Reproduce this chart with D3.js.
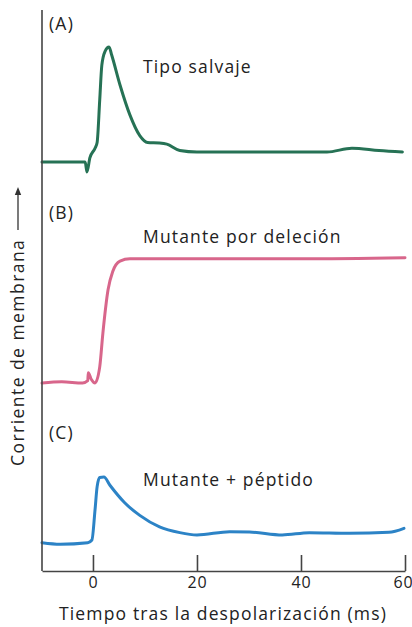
<!DOCTYPE html>
<html>
<head>
<meta charset="utf-8">
<script src="https://cdn.jsdelivr.net/npm/d3@7"></script>
<style>
  html, body { margin: 0; padding: 0; background: #fff; }
  svg { display: block; }
  text { font-family: "Open Sans", "Noto Sans", sans-serif; fill: #222; }
</style>
</head>
<body>
<svg id="chart" width="412" height="627"></svg>
<script>
// ---- data (time in ms, current in arbitrary units, 0 = baseline of each trace) ----
const timeA = [-9.8, -5, -1.5, -1.15, -0.6, 0.4, 0.8, 1.3, 1.7, 2.3, 3.1, 3.6, 5.2, 7.1, 9, 10.5, 12.8, 14.2, 16.7, 20, 30, 45, 49.8, 55, 59.5];
const currentA = [0, 0, 0, -0.087, 0.035, 0.12, 0.17, 0.54, 0.84, 0.96, 1.0, 0.93, 0.67, 0.41, 0.23, 0.17, 0.165, 0.155, 0.1, 0.087, 0.087, 0.087, 0.12, 0.1, 0.087];

const timeB = [-9.8, -6, -2, -1, -0.9, -0.3, 0.4, 1.3, 1.9, 2.9, 3.8, 5.2, 7.1, 20, 40, 60];
const currentB = [0, 0.01, 0, 0.02, 0.09, 0.03, 0, 0.14, 0.43, 0.81, 0.97, 1.06, 1.08, 1.08, 1.08, 1.09];

const timeC = [-9.8, -6.3, -1, -0.2, 0.4, 0.8, 1.3, 2.1, 3.3, 6.1, 9, 12.8, 16.7, 20, 26.3, 30.1, 36.4, 41.6, 49.3, 56.9, 59.8];
const currentC = [0.003, -0.01, 0.003, 0.026, 0.29, 0.49, 0.57, 0.574, 0.5, 0.35, 0.24, 0.14, 0.09, 0.07, 0.098, 0.096, 0.07, 0.09, 0.085, 0.093, 0.128];

const panelLetters = ["(A)", "(B)", "(C)"];
const panelNames = ["Tipo salvaje", "Mutante por deleción", "Mutante + péptido"];
const xTicks = [0, 20, 40, 60];
const xTitle = "Tiempo tras la despolarización (ms)";
const yTitle = "Corriente de membrana";

// ---- layout ----
const svg = d3.select("#chart");
const axisX = 42, axisRight = 405, axisTop = 10, axisBottom = 571;
const x = d3.scaleLinear().domain([-9.8, 60]).range([axisX, axisRight]);
const FS = 17.5, LS = 1.15;

const panels = [
  { t: timeA, v: currentA, base: 162, color: "#267255", letterY: 24, nameY: 67 },
  { t: timeB, v: currentB, base: 383, color: "#d8668b", letterY: 213, nameY: 237 },
  { t: timeC, v: currentC, base: 543, color: "#2c83c6", letterY: 433, nameY: 480 }
];

panels.forEach((p, i) => {
  const y = d3.scaleLinear().domain([0, 1]).range([p.base, p.base - 115]);
  const pts = p.t.map((t, k) => [t, p.v[k]]);
  const line = d3.line().x(d => x(d[0])).y(d => y(d[1])).curve(d3.curveMonotoneX);
  svg.append("path")
    .datum(pts)
    .attr("d", line)
    .attr("fill", "none")
    .attr("stroke", p.color)
    .attr("stroke-width", 3)
    .attr("stroke-linejoin", "round")
    .attr("stroke-linecap", "round");

  svg.append("text")
    .attr("x", 49).attr("y", p.letterY)
    .attr("dy", "0.35em")
    .attr("font-size", 17.5)
    .attr("letter-spacing", 1.2)
    .text(panelLetters[i]);

  svg.append("text")
    .attr("x", 143).attr("y", p.nameY)
    .attr("dy", "0.35em")
    .attr("font-size", FS)
    .attr("letter-spacing", LS)
    .text(panelNames[i]);
});

// y axis line
svg.append("line")
  .attr("x1", axisX).attr("x2", axisX)
  .attr("y1", axisTop).attr("y2", axisBottom)
  .attr("stroke", "#444").attr("stroke-width", 1.6);

// x axis
const xAxis = d3.axisBottom(x).tickValues(xTicks).tickSize(-16).tickPadding(6).tickSizeOuter(0);
const gx = svg.append("g").attr("transform", `translate(0,${axisBottom})`).call(xAxis);
gx.select(".domain").attr("stroke", "#444").attr("stroke-width", 1.6);
gx.selectAll(".tick line").attr("stroke", "#444").attr("stroke-width", 1.6);
gx.selectAll(".tick text").attr("font-size", 16).attr("fill", "#222")
  .attr("letter-spacing", 0.8)
  .attr("font-family", "'Open Sans', 'Noto Sans', sans-serif");
gx.selectAll(".tick text").filter(d => d === 60).attr("text-anchor", "end").attr("dx", 8);

// x title
svg.append("text")
  .attr("x", 223).attr("y", 614)
  .attr("dy", "0.35em")
  .attr("text-anchor", "middle")
  .attr("font-size", FS)
  .attr("letter-spacing", LS)
  .text(xTitle);

// y title (rotated) with arrow
const yt = svg.append("g").attr("transform", "translate(18,466) rotate(-90)");
yt.append("text")
  .attr("x", 0).attr("y", 0)
  .attr("dy", "0.35em")
  .attr("font-size", FS)
  .attr("letter-spacing", LS)
  .attr("textLength", 227)
  .text(yTitle);
// arrow
yt.append("line")
  .attr("x1", 236).attr("x2", 274).attr("y1", 0).attr("y2", 0)
  .attr("stroke", "#333").attr("stroke-width", 1.3);
yt.append("path")
  .attr("d", "M279,0 L271,-3.2 L271,3.2 Z")
  .attr("fill", "#333");
</script>
</body>
</html>
